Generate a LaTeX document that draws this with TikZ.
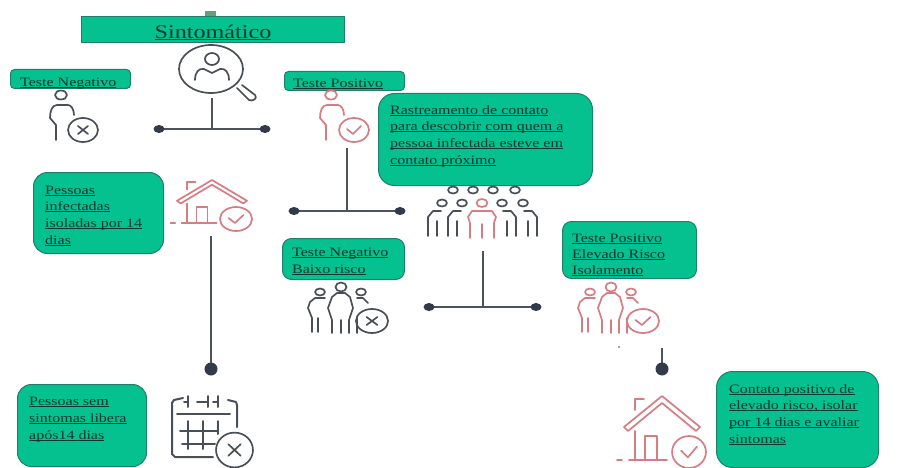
\documentclass[tikz,border=0pt]{standalone}
\usepackage{fontspec}
\setmainfont[FakeStretch=1.25]{Liberation Serif}
\usetikzlibrary{shapes.geometric}
\definecolor{boxgreen}{HTML}{05C08F}
\definecolor{boxedge}{HTML}{1F7F68}
\definecolor{inkgreen}{HTML}{08392E}
\definecolor{tabgreen}{HTML}{5FA27A}
\definecolor{icondark}{HTML}{4A4F57}
\definecolor{iconred}{HTML}{D67C82}
\definecolor{linedark}{HTML}{4D525C}
\definecolor{dotdark}{HTML}{333B4A}
\newcommand{\ulbox}[1]{{\setbox0\hbox{#1}\rlap{\rule[-1.3pt]{\wd0}{0.8pt}}\box0}}
\tikzset{
  x=1pt,y=-1pt,
  greenbox/.style={draw=boxedge,line width=1pt,fill=boxgreen,rounded corners=#1},
  greenbox/.default=14pt,
  boxtext/.style={anchor=base west,yshift=-4pt,inner sep=0pt,text=inkgreen,font=\fontsize{12.8}{15}\selectfont},
  iconline/.style={line width=1.7pt,line cap=round,line join=round},
  wire/.style={draw=linedark,line width=1.6pt},
  enddot/.style={ellipse,fill=dotdark,inner sep=0pt,minimum width=11pt,minimum height=8pt},
  bigdot/.style={circle,fill=dotdark,inner sep=0pt,minimum size=13pt},
  pics/badgex/.style={code={
    \draw[iconline] (0,0) ellipse [x radius=15,y radius=12];
    \draw[iconline] (-5,-4) -- (5,4) (-5,4) -- (5,-4);}},
  pics/badgecheck/.style={code={
    \draw[iconline] (0,0) ellipse [x radius=15,y radius=12];
    \draw[iconline] (-7,-1) -- (-1,4) -- (7,-4);}},
  pics/person/.style={code={
    \draw[iconline] (0,0) ellipse [x radius=6,y radius=4.5];
    \draw[iconline] (-5,45) -- (-5,30) -- (-11,23) .. controls (-11,16) and (-9,10) .. (-4,10) -- (7,10) .. controls (10,10) and (13,14) .. (13,20);}},
  pics/trio/.style={code={
    \draw[iconline] (-21,5) ellipse [x radius=5,y radius=3.5];
    \draw[iconline] (0,0) ellipse [x radius=5.5,y radius=4.5];
    \draw[iconline] (20,5) ellipse [x radius=5,y radius=3.5];
    \draw[iconline] (-29,45) -- (-29,31) -- (-33,21) -- (-31,15) -- (-26,11) -- (-16,11);
    \draw[iconline] (-23,45) -- (-23,31);
    \draw[iconline] (-9,46) -- (-9,33) -- (-13,21) -- (-9,10) -- (-4,6) -- (4,6) -- (9,10) -- (12,21) -- (8,33) -- (8,46);
    \draw[iconline] (0,33) -- (0,46);
    \draw[iconline] (16,11) -- (22,11) -- (27,16);
    \draw[iconline] (16,31) -- (16,46);}},
  pics/house/.style={code={
    \draw[iconline] (-38,31) -- (0,0) -- (38,31) -- (34,35) -- (0,7) -- (-34,35) -- cycle;
    \draw[iconline] (-27,14) -- (-27,3) -- (-18,3);
    \draw[iconline] (-27,35) -- (-27,64);
    \draw[iconline] (-17,64) -- (-17,40) -- (-5,40) -- (-5,64);
    \draw[iconline] (-33,64) -- (5,64);
    \draw[iconline] (-45,64) -- (-40,64);}}
}
\begin{document}
\begin{tikzpicture}
\useasboundingbox (0,0) rectangle (904,468);
% header
\fill[tabgreen] (205,11) rectangle (216,17);
\node[greenbox=0pt,minimum width=263pt,minimum height=26pt,inner sep=0pt,anchor=north west,
  text=inkgreen,font=\fontsize{19.3}{24}\selectfont] (titlebox) at (81,16) {\raisebox{-9pt}[0pt][0pt]{\ulbox{Sintomático}}};
% magnifier icon
\begin{scope}[icondark]
\draw[iconline] (211,69) ellipse [x radius=32,y radius=24];
\draw[iconline] (212,59) ellipse [x radius=7,y radius=6];
\draw[iconline] (195,80) .. controls (195,72) and (199,68) .. (204,69) -- (212,73) -- (220,69) .. controls (225,68) and (229,72) .. (229,80);
\draw[iconline] (237,88) -- (249,100) .. controls (253,102) and (258,98) .. (255,95) -- (242,85);
\end{scope}
% teste negativo
\node[greenbox=4pt,minimum width=120pt,minimum height=19pt,anchor=north west] (negbox) at (10,69) {};
\node[boxtext] (negtext) at (20,83) {\ulbox{Teste Negativo}};
\path (61,95) pic[icondark] {person};
\path (83,130) pic[icondark] {badgex};
% teste positivo
\node[greenbox=4pt,minimum width=120pt,minimum height=19pt,anchor=north west] (posbox) at (284,71) {};
\node[boxtext] (postext) at (293,84) {\ulbox{Teste Positivo}};
\path (331,95) pic[iconred] {person};
\path (354,130) pic[iconred] {badgecheck};
% junction 1
\coordinate (j1l) at (159,129);
\coordinate (j1r) at (265,129);
\coordinate (j1t) at (212,98);
\coordinate (j1m) at (212,129);
\draw[wire] (j1l) -- (j1r);
\draw[wire] (j1t) -- (j1m);
\node[enddot] (d1l) at (j1l) {};
\node[enddot] (d1r) at (j1r) {};
% rastreamento
\node[greenbox=16pt,minimum width=214pt,minimum height=92pt,anchor=north west] (trace) at (378,93) {};
\node[boxtext] at (390,110) {\ulbox{Rastreamento de contato}};
\node[boxtext] at (390,126) {\ulbox{para descobrir com quem a}};
\node[boxtext] at (390,143) {\ulbox{pessoa infectada esteve em}};
\node[boxtext] at (390,160) {\ulbox{contato próximo}};
% infectadas
\node[greenbox=14pt,minimum width=130pt,minimum height=81pt,anchor=north west] (infect) at (33,172) {};
\node[boxtext] at (45,190) {\ulbox{Pessoas}};
\node[boxtext] at (45,206) {\ulbox{infectadas}};
\node[boxtext] at (45,223) {\ulbox{isoladas por 14}};
\node[boxtext] at (45,240) {\ulbox{dias}};
\path (212,180) pic[iconred,xscale=0.92,yscale=0.67] {house};
\path (236,219) pic[iconred,xscale=1.07] {badgecheck};
% junction 2
\coordinate (j2l) at (294,211);
\coordinate (j2r) at (400,211);
\coordinate (j2t) at (347,148);
\coordinate (j2m) at (347,211);
\draw[wire] (j2l) -- (j2r);
\draw[wire] (j2t) -- (j2m);
\node[enddot] at (j2l) {};
\node[enddot] at (j2r) {};
% crowd
\begin{scope}[icondark]
\foreach \h in {453,473,493,515}{\draw[iconline] (\h,190) ellipse [x radius=5,y radius=3.5];}
\foreach \h in {442,462,502,523}{\draw[iconline] (\h,203) ellipse [x radius=5,y radius=3.5];}
\foreach \b in {442,462}{\draw[iconline] (\b-14,236) -- (\b-14,217) -- (\b-9,211) -- (\b-1,211) (\b-5,236)--(\b-5,221);}
\foreach \b in {502,523}{\draw[iconline] (\b+14,236) -- (\b+14,217) -- (\b+9,211) -- (\b+1,211) (\b+5,236)--(\b+5,221);}
\end{scope}
\begin{scope}[iconred]
\draw[iconline] (482,203) ellipse [x radius=5.5,y radius=4];
\draw[iconline] (470,238) -- (470,223) -- (468,217) -- (472,211) -- (492,211) -- (496,217) -- (494,223) -- (494,238);
\draw[iconline] (482,224) -- (482,238);
\end{scope}
% junction 3
\coordinate (j3l) at (429,307);
\coordinate (j3r) at (536,307);
\coordinate (j3t) at (483,251);
\coordinate (j3m) at (483,307);
\draw[wire] (j3l) -- (j3r);
\draw[wire] (j3t) -- (j3m);
\node[enddot] at (j3l) {};
\node[enddot] at (j3r) {};
% baixo risco
\node[greenbox=9pt,minimum width=122pt,minimum height=41pt,anchor=north west] (low) at (282,238) {};
\node[boxtext] at (292,252) {\ulbox{Teste Negativo}};
\node[boxtext] at (292,269) {\ulbox{Baixo risco}};
\path (341,287) pic[icondark] {trio};
\path (372,321) pic[icondark,xscale=1.07] {badgex};
% elevado risco
\node[greenbox=9pt,minimum width=134pt,minimum height=57pt,anchor=north west] (high) at (562,221) {};
\node[boxtext] at (572,238) {\ulbox{Teste Positivo}};
\node[boxtext] at (572,254) {\ulbox{Elevado Risco}};
\node[boxtext] at (572,270) {\ulbox{Isolamento}};
\path (611,287) pic[iconred] {trio};
\path (643,321) pic[iconred,xscale=1.07] {badgecheck};
\fill[icondark!70] (619,347) circle (1.2pt);
% lower right connector
\coordinate (j4t) at (662,348);
\coordinate (j4b) at (662,369);
\draw[wire,line width=2pt] (j4t) -- (j4b);
\node[bigdot] at (j4b) {};
% lower left connector
\coordinate (j5t) at (211,236);
\coordinate (j5b) at (211,369);
\draw[wire,line width=2.4pt] (j5t) -- (j5b);
\node[bigdot] at (j5b) {};
% sem sintomas
\node[greenbox=14pt,minimum width=129pt,minimum height=82pt,anchor=north west] (free) at (17,384) {};
\node[boxtext] at (29,401) {\ulbox{Pessoas sem}};
\node[boxtext] at (29,418) {\ulbox{sintomas libera}};
\node[boxtext] at (29,435) {\ulbox{após14 dias}};
% calendar
\begin{scope}[icondark]
\draw[iconline,line width=2pt] (183,398) -- (174,400) -- (172,403) -- (172,454) -- (175,457) -- (213,457);
\draw[iconline,line width=2pt] (228,400) -- (236,402) -- (237,405) -- (237,427);
\draw[iconline,line width=2pt] (188,396) -- (188,407) (208,396) -- (208,407) (218,396)--(218,407) (188,402)--(184,402) (197,402)--(208,402) (213,402)--(218,402);
\draw[iconline,line width=2pt] (177,414) -- (230,414);
\draw[iconline,line width=2pt] (180,431) -- (217,431) (182,444) -- (215,444);
\draw[iconline,line width=2pt] (188,421) -- (188,449) (203,421) -- (203,449) (218,421) -- (218,434);
\end{scope}
\path (234.5,450) pic[icondark,xscale=1.23,yscale=1.45] {badgex};
% isolar
\path (662,396) pic[iconred] {house};
\path (689,452) pic[iconred,xscale=1.13,yscale=1.33] {badgecheck};
\node[greenbox=16pt,minimum width=162pt,minimum height=96pt,anchor=north west] (isolate) at (716,371) {};
\node[boxtext] at (729,389) {\ulbox{Contato positivo de}};
\node[boxtext] at (729,405) {\ulbox{elevado risco, isolar}};
\node[boxtext] at (729,422) {\ulbox{por 14 dias e avaliar}};
\node[boxtext] at (729,439) {\ulbox{sintomas}};
\end{tikzpicture}
\end{document}
